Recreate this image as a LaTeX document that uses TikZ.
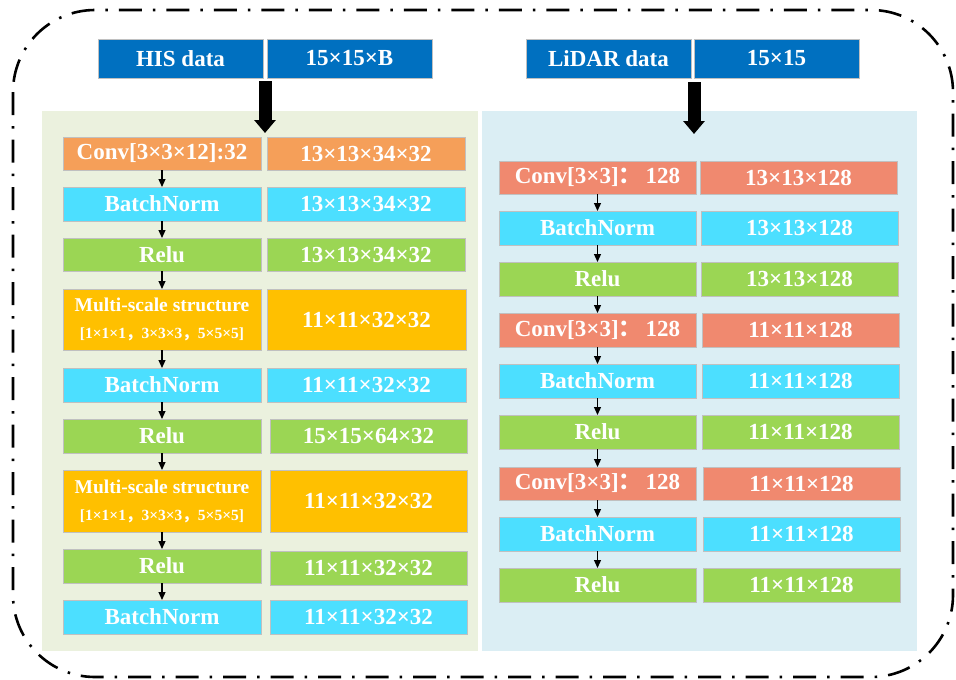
\documentclass[tikz,border=0pt]{standalone}
\usepackage{fontspec}
\setmainfont{Liberation Serif}
\newfontfamily\cjk{Noto Sans CJK SC}
\usetikzlibrary{arrows.meta}
\definecolor{hdrblue}{HTML}{0070C0}
\definecolor{cconv}{HTML}{F59F59}
\definecolor{ccyan}{HTML}{4CDFFF}
\definecolor{cgreen}{HTML}{9BD654}
\definecolor{camber}{HTML}{FFC000}
\definecolor{csalmon}{HTML}{F0896F}
\definecolor{pgreen}{HTML}{EBF1DE}
\definecolor{pblue}{HTML}{DBEEF4}
\definecolor{cborder}{HTML}{C0C0C0}
\newcommand\mycell[7]{\node[cellbox,fill=#6,minimum width={#4-#2},minimum height={#5-#3}] (#1) at ({(#2+#4)/2},{(#3+#5)/2}) {#7};}
\newcommand\ms{{\fontsize{19.5}{22}\selectfont Multi-scale structure}\\[1pt]{\fontsize{15.5}{17}\selectfont [1×1×1{\cjk ，}3×3×3{\cjk ，}5×5×5]}}
\newcommand\cv{Conv[3×3]{\cjk ：}\hspace{4pt}128}
\begin{document}
\begin{tikzpicture}[x=1pt,y=-1pt,
  cellbox/.style={draw=cborder,line width=0.8pt,inner sep=0pt,outer sep=0pt,text=white,
    font=\fontsize{23}{26}\selectfont\bfseries,align=center},
  thinarr/.style={line width=1.2pt,-{Triangle[width=7pt,length=8pt]}},
  bigarr/.style={line width=13pt,-{Triangle[width=21pt,length=13pt]}},
  frame/.style={line width=2.6pt,dash pattern=on 23pt off 11pt on 2.5pt off 11pt,rounded corners=82pt}]
\useasboundingbox (0,0) rectangle (956,680);
\draw[frame] (13,10) rectangle (953,677);
\fill[pgreen] (42,111) rectangle (478,651);
\fill[pblue] (482,111) rectangle (917,651);
% headers
\mycell{his}{98}{39}{263}{78}{hdrblue}{HIS data}
\mycell{hisd}{267}{39}{432}{78}{hdrblue}{15×15×B}
\mycell{lid}{526}{39}{691}{78}{hdrblue}{LiDAR data}
\mycell{lidd}{694}{39}{859}{78}{hdrblue}{15×15}
% left column
\mycell{l1}{63}{137}{261}{170}{cconv}{Conv[3×3×12]:32}
\mycell{l1r}{267}{137}{465}{170}{cconv}{13×13×34×32}
\mycell{l2}{63}{187}{261}{221}{ccyan}{BatchNorm}
\mycell{l2r}{267}{187}{465}{221}{ccyan}{13×13×34×32}
\mycell{l3}{63}{238}{261}{271}{cgreen}{Relu}
\mycell{l3r}{267}{238}{465}{271}{cgreen}{13×13×34×32}
\mycell{l4}{63}{289}{261}{350}{camber}{\ms}
\mycell{l4r}{267}{289}{466}{350}{camber}{11×11×32×32}
\mycell{l5}{63}{368}{261}{402}{ccyan}{BatchNorm}
\mycell{l5r}{267}{368}{466}{402}{ccyan}{11×11×32×32}
\mycell{l6}{63}{419}{261}{453}{cgreen}{Relu}
\mycell{l6r}{270}{419}{467}{453}{cgreen}{15×15×64×32}
\mycell{l7}{63}{470}{261}{532}{camber}{\ms}
\mycell{l7r}{270}{470}{467}{532}{camber}{11×11×32×32}
\mycell{l8}{63}{549}{261}{583}{cgreen}{Relu}
\mycell{l8r}{270}{551}{467}{585}{cgreen}{11×11×32×32}
\mycell{l9}{63}{600}{261}{634}{ccyan}{BatchNorm}
\mycell{l9r}{270}{600}{467}{634}{ccyan}{11×11×32×32}
% right column
\mycell{r1}{499}{161}{696}{194}{csalmon}{\cv}
\mycell{r1r}{700}{161}{897}{194}{csalmon}{13×13×128}
\mycell{r2}{499}{211}{696}{245}{ccyan}{BatchNorm}
\mycell{r2r}{701}{211}{898}{245}{ccyan}{13×13×128}
\mycell{r3}{499}{262}{696}{296}{cgreen}{Relu}
\mycell{r3r}{701}{262}{898}{296}{cgreen}{13×13×128}
\mycell{r4}{499}{313}{696}{347}{csalmon}{\cv}
\mycell{r4r}{702}{313}{899}{347}{csalmon}{11×11×128}
\mycell{r5}{499}{364}{696}{398}{ccyan}{BatchNorm}
\mycell{r5r}{702}{364}{899}{398}{ccyan}{11×11×128}
\mycell{r6}{499}{415}{696}{449}{cgreen}{Relu}
\mycell{r6r}{702}{415}{899}{449}{cgreen}{11×11×128}
\mycell{r7}{499}{467}{696}{500}{csalmon}{\cv}
\mycell{r7r}{703}{467}{900}{500}{csalmon}{11×11×128}
\mycell{r8}{499}{517}{696}{551}{ccyan}{BatchNorm}
\mycell{r8r}{703}{517}{900}{551}{ccyan}{11×11×128}
\mycell{r9}{499}{568}{696}{602}{cgreen}{Relu}
\mycell{r9r}{703}{568}{900}{602}{cgreen}{11×11×128}
% big arrows
\coordinate (ha) at (265,81);
\coordinate (hb) at (265,133);
\coordinate (la) at (694,82);
\coordinate (lb) at (694,134);
\draw[bigarr] (ha) -- (hb);
\draw[bigarr] (la) -- (lb);
% thin arrows
\foreach \a/\b in {l1/l2,l2/l3,l3/l4,l4/l5,l5/l6,l6/l7,l7/l8,l8/l9,r1/r2,r2/r3,r3/r4,r4/r5,r5/r6,r6/r7,r7/r8,r8/r9}
  \draw[thinarr] (\a.south) -- (\b.north);
\end{tikzpicture}
\end{document}
